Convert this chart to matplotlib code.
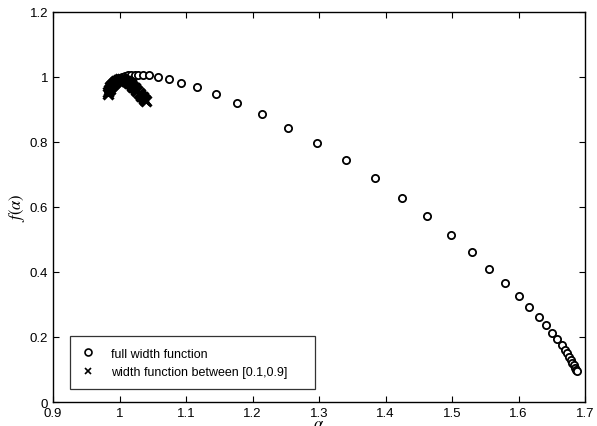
import matplotlib
matplotlib.use("Agg")
import matplotlib.pyplot as plt

plt.rcParams['font.family'] = ['Liberation Sans', 'DejaVu Sans']
plt.rcParams['mathtext.fontset'] = 'stix'

# full width function (circles)
alpha_full = [0.983, 0.985, 0.988, 0.991, 0.995, 0.999, 1.003, 1.008, 1.013,
              1.018, 1.023, 1.028, 1.035, 1.045, 1.058, 1.074, 1.093, 1.117,
              1.145, 1.177, 1.214, 1.254, 1.297, 1.341, 1.384, 1.425, 1.463,
              1.498, 1.530, 1.556, 1.580, 1.600, 1.616, 1.630, 1.641, 1.651,
              1.658, 1.665, 1.670, 1.673, 1.676, 1.679, 1.681, 1.683, 1.685,
              1.687, 1.688]
f_full = [0.958, 0.968, 0.977, 0.985, 0.991, 0.996, 1.000, 1.003, 1.005,
          1.006, 1.007, 1.007, 1.007, 1.005, 0.999, 0.993, 0.982, 0.968,
          0.948, 0.921, 0.887, 0.844, 0.797, 0.745, 0.688, 0.629, 0.571,
          0.514, 0.461, 0.410, 0.367, 0.326, 0.291, 0.262, 0.236, 0.213,
          0.194, 0.176, 0.161, 0.150, 0.140, 0.130, 0.121, 0.113, 0.106,
          0.099, 0.094]

# width function between [0.1, 0.9] (crosses)
alpha_part = [0.982, 0.983, 0.984, 0.985, 0.986, 0.987, 0.988, 0.990, 0.991,
              0.993, 0.995, 0.997, 0.999, 1.001, 1.003, 1.005, 1.007, 1.009,
              1.011, 1.013, 1.015, 1.017, 1.019, 1.021, 1.023, 1.025, 1.027,
              1.029, 1.031, 1.033, 1.035, 1.037, 1.039, 1.040]
f_part = [0.948, 0.954, 0.959, 0.964, 0.968, 0.972, 0.976, 0.979, 0.982,
          0.985, 0.988, 0.990, 0.992, 0.993, 0.993, 0.992, 0.991, 0.989,
          0.987, 0.984, 0.981, 0.977, 0.973, 0.969, 0.965, 0.961, 0.956,
          0.952, 0.947, 0.943, 0.938, 0.933, 0.929, 0.926]

xticks = [0.9, 1.0, 1.1, 1.2, 1.3, 1.4, 1.5, 1.6, 1.7]
xticklabels = ['0.9', '1', '1.1', '1.2', '1.3', '1.4', '1.5', '1.6', '1.7']
yticks = [0, 0.2, 0.4, 0.6, 0.8, 1.0, 1.2]
yticklabels = ['0', '0.2', '0.4', '0.6', '0.8', '1', '1.2']

fig = plt.figure(figsize=(5.97, 4.27), dpi=100)
ax = fig.add_axes([0.0888, 0.0562, 0.8912, 0.9134])

ax.plot(alpha_full, f_full, linestyle='none', marker='o', markersize=5.2,
        markerfacecolor='white', markeredgecolor='black', markeredgewidth=1.3,
        label='full width function')
ax.plot(alpha_part, f_part, linestyle='none', marker='x', markersize=7,
        color='black', markeredgewidth=2.2,
        label='width function between [0.1,0.9]')

ax.set_xlim(0.9, 1.7)
ax.set_ylim(0, 1.2)
ax.set_xticks(xticks)
ax.set_xticklabels(xticklabels)
ax.set_yticks(yticks)
ax.set_yticklabels(yticklabels)
ax.tick_params(direction='in', top=True, right=True, length=4, width=0.8,
               labelsize=9.5, colors='black')
for s in ax.spines.values():
    s.set_linewidth(1.0)

ax.set_xlabel(r'$\alpha$', fontsize=12, labelpad=-2)
ax.set_ylabel(r'$f(\alpha)$', fontsize=12, labelpad=2)

leg = ax.legend(loc='lower left', bbox_to_anchor=(0.032, 0.033, 0.46, 0.146),
                mode='expand', fontsize=9, frameon=True, fancybox=False,
                edgecolor='black', handlelength=1.0, handletextpad=1.4,
                borderpad=0.9, labelspacing=0.5, borderaxespad=0)
leg.get_frame().set_linewidth(0.9)
for h in leg.legend_handles:
    h.set_markeredgewidth(1.2)
    h.set_markersize(5)

fig.savefig('out.png', dpi=100)
